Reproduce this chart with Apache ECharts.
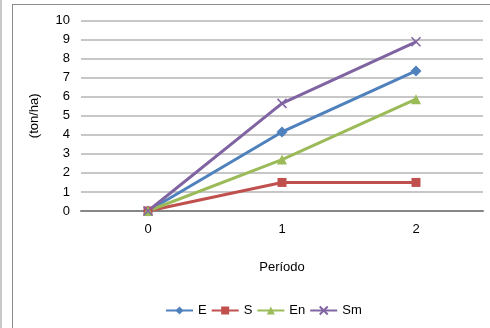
<!DOCTYPE html>
<html><head><meta charset="utf-8">
<script src="https://cdn.jsdelivr.net/npm/echarts@6/dist/echarts.min.js"></script>
<style>html,body{margin:0;padding:0;background:#fff}#c{width:490px;height:328px}</style>
</head><body><div id="c"></div>
<script>
const categories = ['0', '1', '2'];
const seriesE = [0, 4.15, 7.35];
const seriesS = [0, 1.5, 1.5];
const seriesEn = [0, 2.7, 5.87];
const seriesSm = [0, 5.65, 8.88];
const yTicks = [0, 1, 2, 3, 4, 5, 6, 7, 8, 9, 10];

const font = 'Liberation Sans, Arial, sans-serif';
const chart = echarts.init(document.getElementById('c'), null, {renderer: 'canvas'});
const xPath = 'path://M0,0L10,10M10,0L0,10';
function mk(name, data, color, symbol, size) {
  return {
    name, type: 'line', data, symbol, symbolSize: size,
    lineStyle: {color, width: 3},
    itemStyle: symbol === xPath ? {color: 'rgba(0,0,0,0)', borderColor: color, borderWidth: 1.5} : {color, borderWidth: 0},
    emphasis: {disabled: true}, animation: false
  };
}
chart.setOption({
  animation: false,
  backgroundColor: '#fff',
  graphic: [
    {type: 'rect', shape: {x: 0, y: 0, width: 2, height: 328}, style: {fill: '#c8c8c8'}},
    {type: 'line', shape: {x1: 12.5, y1: 4, x2: 12.5, y2: 328}, style: {stroke: '#8c8c8c', lineWidth: 1}},
    {type: 'line', shape: {x1: 12, y1: 4.5, x2: 490, y2: 4.5}, style: {stroke: '#8c8c8c', lineWidth: 1}}
  ],
  grid: {left: 81, right: 7, top: 20.5, bottom: 117, containLabel: false},
  legend: {
    data: ['E', 'S', 'En', 'Sm'], top: 299, left: 160, itemWidth: 27, itemHeight: 10, itemGap: 4,
    textStyle: {fontFamily: font, fontSize: 13, color: '#000'}
  },
  xAxis: {
    type: 'category', data: categories, boundaryGap: true,
    axisLine: {lineStyle: {color: '#868686', width: 2}},
    axisTick: {show: false},
    axisLabel: {fontFamily: font, fontSize: 13, color: '#000', margin: 12},
    name: 'Período', nameLocation: 'middle', nameGap: 50,
    nameTextStyle: {fontFamily: font, fontSize: 13, color: '#000'}
  },
  yAxis: {
    type: 'value', min: 0, max: 10, interval: 1,
    axisLine: {show: false}, axisTick: {show: false},
    splitLine: {lineStyle: {color: '#b4b4b4', width: 1.5}},
    axisLabel: {fontFamily: font, fontSize: 13, color: '#000', margin: 11,
      formatter: v => yTicks.includes(v) ? String(v) : ''},
    name: '(ton/ha)', nameLocation: 'middle', nameGap: 40, nameRotate: 90,
    nameTextStyle: {fontFamily: font, fontSize: 13, color: '#000'}
  },
  series: [
    mk('E', seriesE, '#4F81BD', 'diamond', 11),
    mk('S', seriesS, '#C0504D', 'rect', 9),
    mk('En', seriesEn, '#9BBB59', 'triangle', 10),
    mk('Sm', seriesSm, '#8064A2', xPath, 9)
  ]
});
</script></body></html>
